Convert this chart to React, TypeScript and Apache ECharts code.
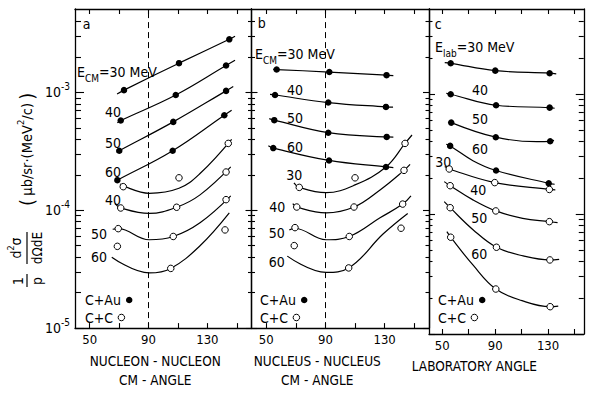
import React, { useEffect, useRef } from 'react';
import * as echarts from 'echarts';

const FONT = "'DejaVu Sans Condensed', 'DejaVu Sans', sans-serif";

// energies (MeV) labelling the curves, top to bottom
const energies = ['30', '40', '50', '60'];

// axes
const xTickValues = [50, 70, 90, 110, 130, 150];
const xLabelValues = [50, 90, 130];
const yMajorValues = [1e-5, 1e-4, 1e-3];
const yMinorValues = [
  2e-5, 3e-5, 4e-5, 5e-5, 6e-5, 7e-5, 8e-5, 9e-5,
  2e-4, 3e-4, 4e-4, 5e-4, 6e-4, 7e-4, 8e-4, 9e-4,
  2e-3, 3e-3, 4e-3,
];
const yMin = 1e-5;
const yMax = 5.1e-3;
const xMaxes = [160, 160, 157];
const axisTitles = ['NUCLEON - NUCLEON\nCM - ANGLE', 'NUCLEUS - NUCLEUS\nCM - ANGLE', 'LABORATORY ANGLE'];
const legendNames = ['C+Au', 'C+C'];

// ---- panel a: nucleon-nucleon CM angle ----
const nnAuPoints = [
  [[73.3, 1.045e-3], [110.7, 1.77e-3], [144.9, 2.82e-3]],
  [[71.1, 5.77e-4], [108.5, 9.5e-4], [142.7, 1.69e-3]],
  [[70.1, 3.2e-4], [106.8, 5.62e-4], [142.7, 1.03e-3]],
  [[68.8, 1.8e-4], [106.4, 3.2e-4], [141.5, 6.4e-4]],
];
const nnAuCurves = [
  [[68.6, 9.7e-4], [73.3, 1.045e-3], [110.7, 1.77e-3], [144.9, 2.82e-3], [148.8, 3.0e-3]],
  [[68.8, 5.52e-4], [71.1, 5.77e-4], [108.5, 9.5e-4], [142.7, 1.69e-3], [148.8, 1.87e-3]],
  [[68.3, 3.1e-4], [70.1, 3.2e-4], [106.8, 5.62e-4], [142.7, 1.03e-3], [147.6, 1.12e-3]],
  [[67.2, 1.755e-4], [68.8, 1.8e-4], [106.4, 3.2e-4], [141.5, 6.4e-4], [146.5, 7.05e-4]],
];
const nnCCPoints = [
  [[72.8, 1.585e-4], [110.7, 1.884e-4], [144.2, 3.69e-4]],
  [[71.1, 1.045e-4], [109.1, 1.06e-4], [142.7, 2.11e-4]],
  [[69.4, 6.98e-5], [106.8, 5.99e-5], [142.7, 1.23e-4]],
  [[68.8, 4.94e-5], [105.1, 3.21e-5], [142.0, 6.81e-5]],
];
const nnCCCurves = [
  [[70.6, 1.67e-4], [90.5, 1.393e-4], [110.7, 1.535e-4], [125, 2.05e-4], [146.5, 4.0e-4]],
  [[67.2, 1.138e-4], [71.1, 1.045e-4], [90.5, 9.39e-5], [109.1, 1.06e-4], [125, 1.35e-4], [145.9, 2.33e-4]],
  [[65.6, 6.9e-5], [69.4, 6.98e-5], [90.5, 5.62e-5], [106.8, 5.99e-5], [125, 7.84e-5], [145.9, 1.326e-4]],
  [[65.0, 4.0e-5], [90.5, 2.94e-5], [105.1, 3.21e-5], [125, 5.0e-5], [144.9, 9.5e-5]],
];

// ---- panel b: nucleus-nucleus CM angle ----
const nucAuPoints = [
  [[57.0, 1.563e-3], [92.6, 1.488e-3], [131.3, 1.4e-3]],
  [[55.9, 9.5e-4], [91.9, 8.2e-4], [130.9, 7.53e-4]],
  [[55.4, 5.81e-4], [91.9, 4.55e-4], [131.4, 4.19e-4]],
  [[54.7, 3.37e-4], [92.4, 2.645e-4], [130.9, 2.33e-4]],
];
const nucAuCurves = [
  [[54.7, 1.57e-3], [57.0, 1.563e-3], [92.6, 1.488e-3], [131.3, 1.4e-3], [135.9, 1.39e-3]],
  [[52.5, 9.62e-4], [55.9, 9.5e-4], [91.9, 8.2e-4], [130.9, 7.53e-4], [135.7, 7.5e-4]],
  [[52.0, 5.99e-4], [55.4, 5.81e-4], [91.9, 4.55e-4], [131.4, 4.19e-4], [135.9, 4.18e-4]],
  [[51.4, 3.53e-4], [54.7, 3.37e-4], [92.4, 2.645e-4], [130.9, 2.33e-4], [135.9, 2.3e-4]],
];
const nucCCPoints = [
  [[72.3, 1.563e-4], [110.0, 1.884e-4], [143.8, 3.69e-4]],
  [[70.6, 1.065e-4], [109.3, 1.065e-4], [143.1, 2.18e-4]],
  [[69.4, 7.12e-5], [106.1, 5.99e-5], [142.2, 1.128e-4]],
  [[68.9, 5.01e-5], [105.7, 3.24e-5], [141.1, 7.04e-5]],
];
const nucCCCurves = [
  [[68.7, 1.71e-4], [72.3, 1.563e-4], [90.4, 1.41e-4], [110, 1.64e-4], [130.9, 2.33e-4], [143.8, 3.69e-4], [148.5, 4.35e-4]],
  [[67.9, 1.138e-4], [70.6, 1.065e-4], [90.4, 9.5e-5], [109.3, 1.065e-4], [126.9, 1.488e-4], [143.1, 2.18e-4], [147.2, 2.45e-4]],
  [[65.6, 6.81e-5], [69.4, 7.0e-5], [90.4, 5.62e-5], [106.1, 5.99e-5], [126.9, 8.63e-5], [142.2, 1.128e-4], [147.8, 1.326e-4]],
  [[64.2, 4.08e-5], [90.4, 2.97e-5], [105.7, 3.24e-5], [129.1, 6.31e-5], [145.6, 9.39e-5]],
];

// ---- panel c: laboratory angle ----
const labAuPoints = [
  [[56.4, 1.8e-3], [90.1, 1.563e-3], [131.2, 1.488e-3]],
  [[56.4, 9.94e-4], [90.7, 8.05e-4], [131.2, 7.69e-4]],
  [[56.8, 5.77e-4], [90.5, 4.36e-4], [131.6, 4.03e-4]],
  [[56.0, 3.69e-4], [90.7, 2.3e-4], [130.5, 1.8e-4]],
];
const labAuCurves = [
  [[51.9, 1.82e-3], [56.4, 1.8e-3], [90.1, 1.563e-3], [131.2, 1.488e-3], [136.2, 1.468e-3]],
  [[53.0, 1.013e-3], [56.4, 9.94e-4], [90.7, 8.05e-4], [131.2, 7.69e-4], [135.0, 7.6e-4]],
  [[56.8, 5.77e-4], [90.5, 4.36e-4], [121.5, 4.0e-4], [131.6, 4.03e-4], [134.5, 4.1e-4]],
  [[53.0, 3.81e-4], [56.0, 3.69e-4], [73.2, 2.78e-4], [90.7, 2.3e-4], [130.5, 1.8e-4], [135.0, 1.768e-4]],
];
const labCCPoints = [
  [[55.3, 2.37e-4], [89.7, 1.825e-4], [131.0, 1.6e-4]],
  [[56.0, 1.72e-4], [90.5, 1.06e-4], [131.0, 8.63e-5]],
  [[56.0, 1.128e-4], [91.0, 5.28e-5], [131.4, 4.14e-5]],
  [[56.4, 6.4e-5], [90.5, 2.37e-5], [131.6, 1.689e-5]],
];
const labCCCurves = [
  [[51.9, 2.48e-4], [55.3, 2.37e-4], [89.7, 1.825e-4], [131.0, 1.6e-4], [135.5, 1.585e-4]],
  [[51.5, 1.86e-4], [56.0, 1.72e-4], [73.2, 1.31e-4], [90.5, 1.06e-4], [110.8, 9.2e-5], [131.0, 8.63e-5], [137.2, 8.46e-5]],
  [[51.5, 1.266e-4], [56.0, 1.128e-4], [73.5, 7.36e-5], [91.0, 5.28e-5], [111.2, 4.47e-5], [131.4, 4.14e-5], [138.4, 4.19e-5]],
  [[53.5, 7.12e-5], [56.4, 6.4e-5], [73.2, 3.76e-5], [90.5, 2.37e-5], [110.3, 1.895e-5], [131.6, 1.689e-5], [137.7, 1.71e-5]],
];

const panels = [
  { auPts: nnAuPoints, auCurves: nnAuCurves, ccPts: nnCCPoints, ccCurves: nnCCCurves, dashed: true },
  { auPts: nucAuPoints, auCurves: nucAuCurves, ccPts: nucCCPoints, ccCurves: nucCCCurves, dashed: true },
  { auPts: labAuPoints, auCurves: labAuCurves, ccPts: labCCPoints, ccCurves: labCCCurves, dashed: false },
];

// layout (pixels)
const grids = [
  { left: 75, top: 9, width: 176.5, height: 325 },
  { left: 251.5, top: 9, width: 177.5, height: 325 },
  { left: 429, top: 9, width: 173.5, height: 325 },
];
const titleShift = [8, 23, 32];
const legendLeft = [85, 260, 438];
const legendTop = [293, 310.5];

const BLACK = '#000';
const auStyle = { color: BLACK, borderColor: BLACK, borderWidth: 0, opacity: 1 };
const ccStyle = { color: '#fff', borderColor: BLACK, borderWidth: 1, opacity: 1 };

function buildOption() {
  const xAxis: any[] = [];
  const yAxis: any[] = [];
  const series: any[] = [];

  grids.forEach((g, i) => {
    const tickStyle = { color: BLACK, width: 1.1 };
    const lineStyle = { color: BLACK, width: 1.3 };
    const xCommon = {
      type: 'value', gridIndex: i, min: 40, max: xMaxes[i],
      splitLine: { show: false },
      axisLine: { show: true, onZero: false, lineStyle },
      axisTick: { show: true, inside: true, length: 5, customValues: xTickValues, lineStyle: tickStyle },
    };
    xAxis.push({
      ...xCommon,
      position: 'bottom',
      axisLabel: { show: true, customValues: xLabelValues, color: BLACK, fontSize: 13, fontFamily: FONT, margin: 5 },
      name: axisTitles[i],
      nameLocation: 'middle',
      nameGap: 22,
      nameTextStyle: { color: BLACK, fontSize: 13.5, fontFamily: FONT, lineHeight: 19, padding: [0, titleShift[i] * 2, 0, 0] },
    });
    xAxis.push({ ...xCommon, position: 'top', axisLabel: { show: false } });

    const yCommon = {
      type: 'log', logBase: 10, gridIndex: i, min: yMin, max: yMax,
      splitLine: { show: false }, axisLabel: { show: false },
      axisLine: { show: false, onZero: false },
    };
    yAxis.push({
      ...yCommon, position: 'left',
      axisLine: { show: true, onZero: false, lineStyle },
      axisTick: { show: true, inside: true, length: i === 0 ? 9 : 6, customValues: yMajorValues, lineStyle: tickStyle },
      axisLabel: i === 0 ? {
        show: true, customValues: yMajorValues, margin: 5,
        formatter: (v: number) => `{b|10}{s|${Math.round(Math.log10(v))}}`,
        rich: {
          b: { fontSize: 14, fontFamily: FONT, color: BLACK, lineHeight: 22 },
          s: { fontSize: 10, fontFamily: FONT, color: BLACK, lineHeight: 11, verticalAlign: 'top' },
        },
      } : { show: false },
    });
    yAxis.push({
      ...yCommon, position: 'left',
      axisTick: { show: true, inside: true, length: i === 0 ? 6 : 3.5, customValues: yMinorValues, lineStyle: tickStyle },
    });
    yAxis.push({
      ...yCommon, position: 'right',
      axisLine: { show: true, onZero: false, lineStyle },
      axisTick: { show: true, inside: true, length: i === 2 ? 8 : 6, customValues: yMajorValues, lineStyle: tickStyle },
    });
    yAxis.push({
      ...yCommon, position: 'right',
      axisTick: { show: true, inside: true, length: i === 2 ? 5 : 3.5, customValues: yMinorValues, lineStyle: tickStyle },
    });

    const p = panels[i];
    const xi = 2 * i;
    const yi = 4 * i;
    const curves = [...p.auCurves, ...p.ccCurves];
    curves.forEach((c, k) => {
      const s: any = {
        type: 'line', name: `curve-${i}-${k}`, xAxisIndex: xi, yAxisIndex: yi,
        data: c, smooth: 0.4, symbol: 'none', silent: true, z: 2,
        lineStyle: { color: BLACK, width: 1.2 },
      };
      if (k === 0 && p.dashed) {
        s.markLine = {
          silent: true, symbol: ['none', 'none'], label: { show: false },
          lineStyle: { type: [6, 4], color: BLACK, width: 1 },
          data: [{ xAxis: 90 }],
        };
      }
      series.push(s);
    });
    series.push({
      type: 'scatter', name: legendNames[0], xAxisIndex: xi, yAxisIndex: yi,
      data: p.auPts.flat(), symbol: 'circle', symbolSize: 6.5, z: 3,
      itemStyle: auStyle,
    });
    series.push({
      type: 'scatter', name: legendNames[1], xAxisIndex: xi, yAxisIndex: yi,
      data: p.ccPts.flat(), symbol: 'circle', symbolSize: 6.5, z: 3,
      itemStyle: ccStyle,
    });
  });

  const legend: any[] = [];
  legendLeft.forEach((left) => {
    legendNames.forEach((name, j) => {
      legend.push({
        left, top: legendTop[j], orient: 'horizontal', align: 'right',
        itemWidth: 6.5, itemHeight: 6.5, icon: 'circle', padding: 0,
        selectedMode: false,
        itemStyle: j === 0 ? auStyle : ccStyle,
        data: [{ name, itemStyle: j === 0 ? auStyle : ccStyle }],
        textStyle: { color: BLACK, fontSize: 14, fontFamily: FONT, lineHeight: 14 },
      });
    });
  });

  const richE = {
    b: { fontSize: 14, fontFamily: FONT, fill: BLACK, lineHeight: 22 },
    sub: { fontSize: 10, fontFamily: FONT, fill: BLACK, lineHeight: 12, verticalAlign: 'bottom' },
  };
  const txt = (x: number, y: number, text: string, align = 'center') => ({
    type: 'text', x, y, silent: true,
    style: { text, fill: BLACK, fontSize: 14, fontFamily: FONT, align, verticalAlign: 'middle' },
  });
  const header = (x: number, y: number, sub: string) => ({
    type: 'text', x, y, silent: true,
    style: { text: `{b|E}{sub|${sub}}{b|=${energies[0]} MeV}`, rich: richE, align: 'left', verticalAlign: 'middle' },
  });

  const graphic: any[] = [
    // panel letters
    txt(86.7, 24, 'a'), txt(261.7, 23, 'b'), txt(438.3, 24, 'c'),
    // panel a
    header(77, 72, 'CM'),
    txt(113, 111.7, energies[1]), txt(113, 143.3, energies[2]), txt(113, 171.7, energies[3]),
    txt(113, 200, energies[1]), txt(99, 234, energies[2]), txt(99, 257, energies[3]),
    // panel b
    header(255, 54, 'CM'),
    txt(295, 90, energies[1]), txt(295, 118, energies[2]), txt(295, 146.7, energies[3]),
    txt(294.3, 175, energies[0]), txt(277.3, 207.3, energies[1]), txt(276.7, 233.3, energies[2]), txt(276.7, 261.7, energies[3]),
    // panel c
    header(435, 47, 'lab'),
    txt(480, 90, energies[1]), txt(480, 119.3, energies[2]), txt(480, 149.3, energies[3]),
    txt(443.3, 161.7, energies[0]), txt(478.3, 190, energies[1]), txt(479.3, 218.3, energies[2]), txt(479.3, 254, energies[3]),
    // y-axis title, rotated
    {
      type: 'group', x: 27, y: 300, rotation: Math.PI / 2, silent: true,
      children: [
        { type: 'text', x: 19, y: -9.5, style: { text: '1', fill: BLACK, fontSize: 14, fontFamily: FONT, align: 'center', verticalAlign: 'middle' } },
        { type: 'line', shape: { x1: 13, y1: 0, x2: 26, y2: 0 }, style: { stroke: BLACK, lineWidth: 1.2 } },
        { type: 'text', x: 19, y: 9.5, style: { text: 'p', fill: BLACK, fontSize: 14, fontFamily: FONT, align: 'center', verticalAlign: 'middle' } },
        {
          type: 'text', x: 52, y: -11,
          style: {
            text: '{m|d}{s|2}{m|σ}', align: 'center', verticalAlign: 'middle',
            rich: {
              m: { fontSize: 14, fontFamily: FONT, fill: BLACK, lineHeight: 20 },
              s: { fontSize: 9, fontFamily: FONT, fill: BLACK, lineHeight: 10, verticalAlign: 'top' },
            },
          },
        },
        { type: 'line', shape: { x1: 36, y1: 0, x2: 68, y2: 0 }, style: { stroke: BLACK, lineWidth: 1.2 } },
        { type: 'text', x: 52, y: 10, style: { text: 'dΩdE', fill: BLACK, fontSize: 13.5, fontFamily: FONT, align: 'center', verticalAlign: 'middle' } },
        {
          type: 'text', x: 94, y: 0,
          style: {
            text: '{p|(} {m|μb/sr·(MeV}{s|2}{m|/c)} {p|)}', align: 'left', verticalAlign: 'middle',
            rich: {
              p: { fontSize: 20, fontFamily: FONT, fill: BLACK, lineHeight: 24 },
              m: { fontSize: 14.5, fontFamily: FONT, fill: BLACK, lineHeight: 24 },
              s: { fontSize: 9.5, fontFamily: FONT, fill: BLACK, lineHeight: 14, verticalAlign: 'top' },
            },
          },
        },
      ],
    },
  ];

  return {
    animation: false,
    backgroundColor: '#fff',
    grid: grids,
    xAxis,
    yAxis,
    legend,
    series,
    graphic,
  };
}

export default function App() {
  const ref = useRef<HTMLDivElement>(null);
  useEffect(() => {
    const chart = echarts.init(ref.current as HTMLDivElement, null, { renderer: 'svg' });
    chart.setOption(buildOption() as any);
    return () => chart.dispose();
  }, []);
  return (
    <div
      ref={ref}
      style={{ position: 'fixed', left: 0, top: 0, width: 604, height: 394, background: '#fff' }}
    />
  );
}
